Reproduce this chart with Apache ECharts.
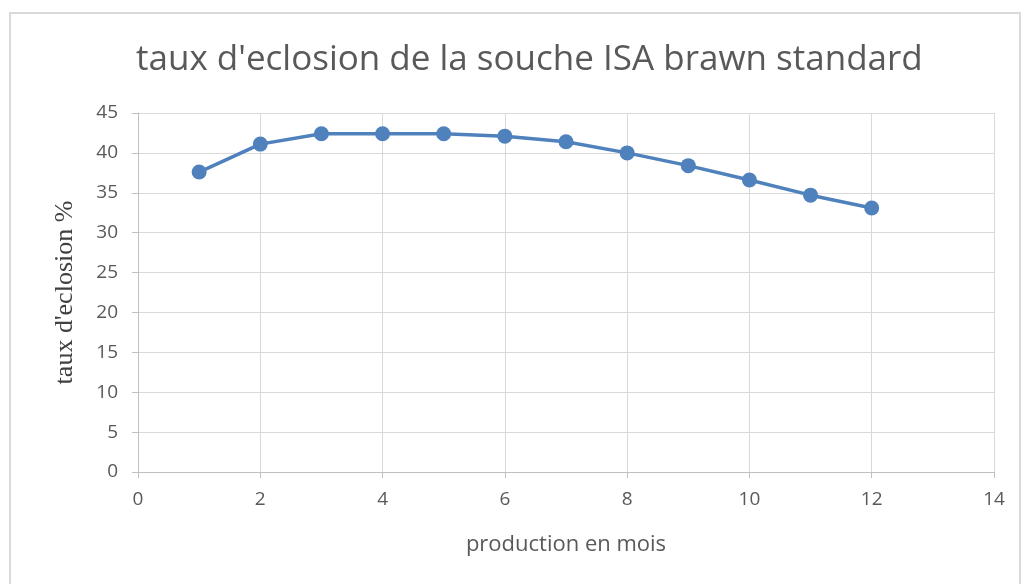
<!DOCTYPE html>
<html>
<head>
<meta charset="utf-8">
<script src="https://cdn.jsdelivr.net/npm/echarts@6/dist/echarts.min.js"></script>
<style>
  html, body { margin: 0; padding: 0; background: #fff; }
  #chart { width: 1024px; height: 584px; }
</style>
</head>
<body>
<div id="chart"></div>
<script>
// donnees
var mois = [1, 2, 3, 4, 5, 6, 7, 8, 9, 10, 11, 12];
var tauxEclosion = [37.6, 41.1, 42.4, 42.4, 42.4, 42.1, 41.4, 40.0, 38.4, 36.6, 34.7, 33.1];

var points = [];
for (var i = 0; i < mois.length; i++) {
  points.push([mois[i], tauxEclosion[i]]);
}

var myChart = echarts.init(document.getElementById('chart'));

var option = {
  backgroundColor: '#fff',
  animation: false,
  graphic: [{
    type: 'rect',
    shape: { x: 10, y: 13, width: 1010, height: 600 },
    style: { fill: 'none', stroke: '#d9d9d9', lineWidth: 2 }
  }],
  title: {
    text: "taux d'eclosion de la souche ISA brawn standard",
    left: 131,
    top: 38,
    textStyle: {
      fontFamily: 'Open Sans',
      fontSize: 35,
      fontWeight: 'normal',
      color: '#595959'
    }
  },
  grid: {
    left: 138,
    right: 30,
    top: 113,
    bottom: 112
  },
  xAxis: {
    type: 'value',
    min: 0,
    max: 14,
    interval: 2,
    name: 'production en mois',
    nameLocation: 'middle',
    nameGap: 62,
    nameTextStyle: { fontFamily: 'Open Sans', fontSize: 22, color: '#595959' },
    axisLine: { show: true, lineStyle: { color: '#bfbfbf' } },
    axisTick: { show: true, length: 6, lineStyle: { color: '#bfbfbf' } },
    axisLabel: { fontFamily: 'Open Sans', fontSize: 19, color: '#595959', margin: 18 },
    splitLine: { show: true, lineStyle: { color: '#d9d9d9' } }
  },
  yAxis: {
    type: 'value',
    min: 0,
    max: 45,
    interval: 5,
    name: "taux d'eclosion %",
    nameLocation: 'middle',
    nameGap: 60,
    nameTextStyle: { fontFamily: 'Liberation Serif', fontSize: 26, color: '#404040' },
    axisLine: { show: true, lineStyle: { color: '#bfbfbf' } },
    axisTick: { show: true, length: 6, lineStyle: { color: '#bfbfbf' } },
    axisLabel: { fontFamily: 'Open Sans', fontSize: 19, color: '#595959', margin: 20 },
    splitLine: { show: true, lineStyle: { color: '#d9d9d9' } }
  },
  series: [{
    name: "taux d'eclosion",
    type: 'line',
    data: points,
    symbol: 'circle',
    symbolSize: 15,
    lineStyle: { width: 3.5, color: '#4f81bd' },
    itemStyle: { color: '#4f81bd' }
  }]
};

myChart.setOption(option);
</script>
</body>
</html>
